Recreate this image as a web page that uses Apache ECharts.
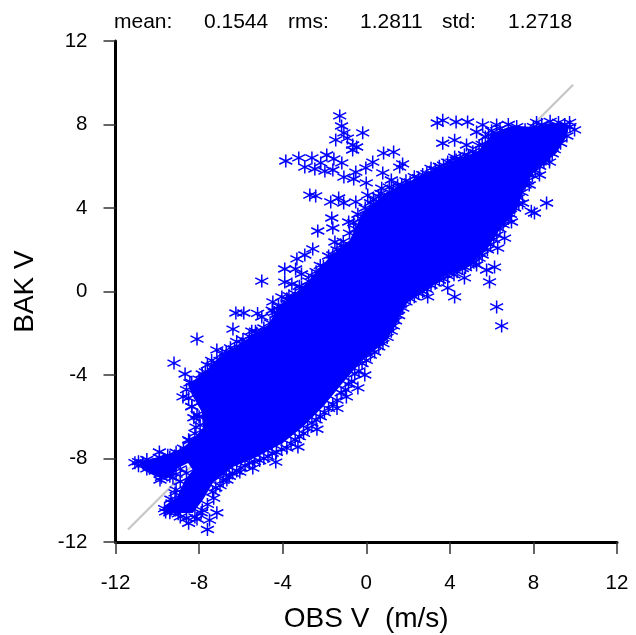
<!DOCTYPE html>
<html><head><meta charset="utf-8">
<style>html,body{margin:0;padding:0;background:#fff}#c{width:636px;height:635px}</style>
<script src="https://cdn.jsdelivr.net/npm/echarts@6/dist/echarts.min.js"></script>
</head><body><div id="c"></div>
<script>
const identityLine=[[-11.4,-11.4],[9.9,9.9]];
const statLabels=['mean:','0.1544','rms:','1.2811','std:','1.2718'];
// outline of the region where the markers merge into solid colour (data units)
const solidCore=[[-10.83,-8.17],[-9.63,-7.83],[-8.92,-7.59],[-8.34,-7.11],[-7.82,-6.54],[-7.87,-5.77],[-8.34,-4.96],[-8.53,-4.48],[-7.72,-3.86],[-7.1,-3.19],[-6.29,-2.66],[-5.57,-2.18],[-4.76,-1.7],[-4.14,-0.65],[-3.04,0.22],[-1.75,1.65],[-0.79,2.47],[-0.17,3.81],[0.98,4.77],[2.56,5.49],[3.51,5.92],[5.28,6.63],[6.05,7.59],[7,7.95],[7.96,7.88],[8.91,8.1],[9.73,7.98],[9.58,7.4],[9.1,6.63],[7.96,5.68],[7.48,4.72],[7.19,3.9],[6.38,2.95],[5.76,1.99],[4.8,1.17],[3.66,0.69],[2.89,0.07],[1.93,-0.55],[1.46,-1.51],[0.98,-2.32],[-0.17,-3.28],[-1.13,-4.38],[-2.08,-5.53],[-3.04,-6.49],[-3.99,-7.26],[-5.24,-7.93],[-6.38,-8.41],[-7.34,-9.17],[-7.82,-9.99],[-8.3,-10.61],[-9.54,-10.61],[-9.73,-10.32],[-9.06,-9.84],[-8.68,-9.03],[-8.3,-8.55],[-8.53,-8.22],[-9.01,-8.46],[-9.39,-8.89],[-10.02,-8.89],[-10.69,-8.55]];
const upperEdgePoints=[[-10.9,-8.15],[-10.5,-8.05],[-10.2,-8.3],[-9.9,-7.95],[-9.5,-7.85],[-9.1,-7.7],[-8.75,-7.5],[-8.45,-7.15],[-8.2,-6.8],[-7.95,-6.4],[-8.1,-5.9],[-8.35,-5.5],[-8.5,-5.1],[-8.6,-4.7],[-8.35,-4.35],[-8.0,-4.2],[-7.7,-3.85],[-7.3,-3.6],[-7.0,-3.3],[-6.7,-2.9],[-6.3,-2.75],[-5.95,-2.5],[-5.6,-2.15],[-5.25,-2.0],[-4.9,-1.75],[-4.6,-1.5],[-4.3,-1.1],[-4.2,-0.7],[-3.8,-0.35],[-3.4,-0.1],[-3.1,0.2],[-2.75,0.5],[-2.4,0.95],[-2.05,1.2],[-1.8,1.7],[-1.4,2.0],[-1.1,2.4],[-0.8,2.8],[-0.6,3.3],[-0.4,3.7],[-0.05,4.0],[0.35,4.4],[0.7,4.7],[1.1,5.0],[1.5,5.1],[1.9,5.3],[2.3,5.5],[2.7,5.6],[3.1,5.9],[3.5,6.0],[3.9,6.2],[4.3,6.3],[4.7,6.55],[5.1,6.7],[5.4,7.0],[5.7,7.4],[6.0,7.7],[6.4,7.8],[6.8,8.0],[7.2,7.9],[7.6,7.75],[8.0,7.9],[8.4,8.0],[8.8,8.15],[9.2,8.1],[9.5,8.0],[9.75,7.9],[-7.4,-3.3],[-6.9,-3.0],[-6.5,-2.7],[-5.9,-2.3],[-5.3,-1.9],[-4.4,-1.0],[-3.7,-0.2],[-3.2,0.25],[-2.6,0.75],[-2.2,1.25],[-1.6,1.75],[-1.2,2.2],[-0.5,3.0],[-0.25,3.5],[0.2,4.25],[0.6,4.55],[1.3,4.85],[1.7,5.1],[2.1,5.25],[2.5,5.45],[2.9,5.65],[3.3,5.85],[3.7,6.05],[4.1,6.2],[4.5,6.35],[4.9,6.5],[5.25,6.65],[5.55,7.05],[5.85,7.5],[-8.0,-6.0],[-8.15,-6.5],[-8.25,-6.05]];
const lowerEdgePoints=[[9.6,7.45],[9.3,7.1],[9.0,6.8],[8.6,6.35],[8.3,6.0],[7.95,5.55],[7.6,5.1],[7.3,4.5],[7.1,4.0],[6.8,3.5],[6.4,3.0],[6.1,2.5],[5.8,2.0],[5.4,1.6],[5.0,1.3],[4.6,1.1],[4.2,0.8],[3.7,0.6],[3.3,0.4],[2.9,0.1],[2.5,-0.1],[2.1,-0.35],[1.75,-0.8],[1.4,-1.4],[1.2,-1.9],[0.8,-2.5],[0.4,-2.9],[0.0,-3.3],[-0.35,-3.8],[-0.7,-4.3],[-1.0,-4.7],[-1.4,-5.2],[-1.8,-5.6],[-2.2,-6.0],[-2.6,-6.3],[-3.0,-6.8],[-3.4,-7.1],[-3.8,-7.5],[-4.3,-7.7],[-4.7,-7.9],[-5.1,-8.1],[-5.6,-8.2],[-6.0,-8.45],[-6.4,-8.7],[-6.7,-8.8],[-7.0,-9.3],[-7.35,-9.6],[-7.6,-10.2],[-7.9,-10.6],[-8.2,-10.8],[-8.6,-10.85],[-9.0,-10.65],[-9.4,-10.5],[-9.65,-10.4],[-9.35,-9.95],[-9.1,-9.5],[-8.9,-9.1],[-8.6,-8.7],[-10.9,-8.35],[-10.5,-8.5],[-10.1,-8.6],[-9.8,-8.9],[-9.4,-8.85],[-9.1,-8.75],[-8.9,-8.5],[8.9,6.6],[8.5,6.2],[8.1,5.8],[7.7,5.3],[7.45,4.75],[7.3,4.2],[6.9,3.7],[6.55,3.2],[6.25,2.7],[5.95,2.25],[5.55,1.75],[5.15,1.4],[4.75,1.15],[4.35,0.95],[3.9,0.75],[3.5,0.55],[3.1,0.3],[2.7,0.0],[2.3,-0.25],[1.9,-0.5],[1.55,-1.15],[1.3,-1.65],[1.0,-2.2],[0.6,-2.65],[0.2,-3.05],[-0.2,-3.45],[-0.55,-3.95],[-0.85,-4.45],[-1.2,-4.85],[-1.6,-5.4],[-2.0,-5.8],[-2.4,-6.15],[-2.8,-6.55],[-3.2,-6.95],[-3.6,-7.3],[-4.05,-7.55],[-4.5,-7.75],[-4.9,-8.0],[-5.35,-8.15],[-5.8,-8.35],[-6.2,-8.6],[-6.55,-8.85],[-6.85,-9.05],[-7.2,-9.4]];
const upperOutliers=[[-3.85,6.25],[-3.23,6.4],[-2.94,5.96],[-2.6,6.4],[-2.46,5.87],[-2.18,6.16],[-1.89,6.54],[-1.98,5.77],[-1.55,6.35],[-1.6,5.82],[-1.17,6.16],[-1.07,5.48],[-0.6,5.39],[-0.5,5.72],[-0.02,5.92],[0.31,6.2],[0,5.2],[0.83,6.63],[1.31,6.68],[0.79,5.68],[1.74,6.11],[1.6,5.96],[1.2,5.34],[-1.27,8.41],[-1.18,7.93],[-1.46,7.26],[-1.07,7.6],[-0.17,7.6],[-0.9,7.35],[-0.65,7.02],[-0.46,6.92],[-0.65,6.78],[-2.7,4.62],[-2.42,4.58],[-1.7,4.29],[-1.32,4.48],[-1.08,4.24],[-0.5,4.29],[0.07,4.62],[0.74,4.95],[-1.65,3.52],[-1.6,3.04],[-0.84,3.33],[-2.32,2.9],[-1.5,2.37],[-2.56,2.04],[-2.94,1.75],[-3.32,1.56],[-3.9,1.08],[-3.38,1.08],[-3.1,0.84],[-5.0,0.5],[-3.9,0.45],[-3.56,0.36],[-4.04,-0.26],[-4.47,-0.5],[-3.8,-0.55],[-4.13,-0.89],[-4.5,-0.9],[-6.24,-1.03],[-5.86,-1.03],[-5.0,-1.22],[-5.2,-1.05],[-6.38,-1.8],[-5.48,-1.9],[-8.1,-2.28],[-6.2,-2.4],[-7.15,-2.8],[-9.2,-3.43],[-8.67,-3.95],[-7.85,-3.95],[-8.77,-5.05],[-8.44,-4.38],[-8.35,-5.53],[-7.6,-3.52],[3.4,8.07],[3.66,8.2],[4.3,8.12],[4.85,8.12],[5.57,7.98],[6.24,7.98],[3.66,7.1],[4.23,7.25],[4.23,6.44],[4.8,7.02],[5.28,7.64],[8.15,8.1],[9.73,8.1],[9.97,7.74]];
const lowerOutliers=[[-11.07,-8.2],[-10.7,-8.2],[-10.25,-8.31],[-9.9,-7.69],[-9.8,-8.55],[-9.87,-9.03],[-9.4,-7.93],[-9.25,-8.93],[-8.9,-7.74],[-8.5,-7.1],[-9.6,-10.56],[-9.3,-10.13],[-9.15,-9.65],[-8.5,-11.1],[-8.1,-10.9],[-7.6,-11.4],[-7.5,-10.95],[-7.15,-10.6],[-7.85,-10.47],[-7.3,-9.9],[-8.9,-10.8],[-9.4,-10.6],[-6.05,-8.65],[-5.43,-8.46],[-4.33,-8.17],[-6.67,-9.03],[-3.27,-7.45],[-2.36,-6.6],[-1.4,-5.6],[-0.95,-5.05],[-0.4,-4.62],[-0.07,-4.0],[6.48,-1.65],[6.24,-0.74],[5.9,0.46],[4.7,0.65],[4.23,-0.26],[3.9,0.17],[2.94,-0.26],[6.14,1.17],[5.76,1.03],[5.28,1.27],[6.29,2.08],[6.62,2.56],[6.95,3.33],[7.48,4.24],[8.63,4.24],[8.05,3.76],[7.9,3.85],[7.8,5.1],[8.29,5.58],[8.77,6.2]];

const STAR='path://M6 0L6 12M0 3L12 9M0 9L12 3';
const FONT='"Liberation Sans",Arial,sans-serif';
const statX=[114,204,288,360,442,508];
const chart=echarts.init(document.getElementById('c'),null,{renderer:'canvas'});
const axisBase={type:'value',min:-12,max:12,interval:4,splitLine:{show:false},
  axisLine:{show:true,onZero:false,lineStyle:{color:'#000',width:3}},
  axisTick:{show:true,length:12,lineStyle:{color:'#333',width:1.5}},
  axisLabel:{color:'#000',fontSize:20.5,fontFamily:FONT,hideOverlap:false,showMinLabel:true,showMaxLabel:true}};
function scat(d){return {type:'scatter',data:d,symbol:STAR,symbolSize:[13,13],silent:true,z:4,
  itemStyle:{color:'rgba(0,0,255,0)',borderColor:'#0000ff',borderWidth:1.5,opacity:1}};}
chart.setOption({animation:false,backgroundColor:'#fff',
  grid:{left:115.5,right:19,top:41,bottom:93,outerBoundsMode:'none',containLabel:false},
  xAxis:Object.assign({},axisBase,{axisLabel:Object.assign({},axisBase.axisLabel,{margin:31}),
    name:'OBS V  (m/s)',nameLocation:'middle',nameGap:63,nameTextStyle:{color:'#000',fontSize:28,fontFamily:FONT}}),
  yAxis:Object.assign({},axisBase,{axisLabel:Object.assign({},axisBase.axisLabel,{margin:28}),
    name:'BAK V',nameLocation:'middle',nameGap:76,nameTextStyle:{color:'#000',fontSize:28,fontFamily:FONT}}),
  graphic:statLabels.map((t,i)=>({type:'text',left:statX[i],top:12,style:{text:t,fill:'#000',fontSize:21,fontFamily:FONT}})),
  series:[
    {type:'line',data:identityLine,showSymbol:false,silent:true,z:1,lineStyle:{color:'#c6c6c6',width:2.2}},
    {type:'custom',silent:true,z:3,data:[0],coordinateSystem:'cartesian2d',
     renderItem:(p,api)=>({type:'polygon',shape:{points:solidCore.map(c=>api.coord(c))},style:{fill:'#0000ff'}})},
    scat(upperEdgePoints),scat(lowerEdgePoints),scat(upperOutliers),scat(lowerOutliers)
  ]});
</script></body></html>
